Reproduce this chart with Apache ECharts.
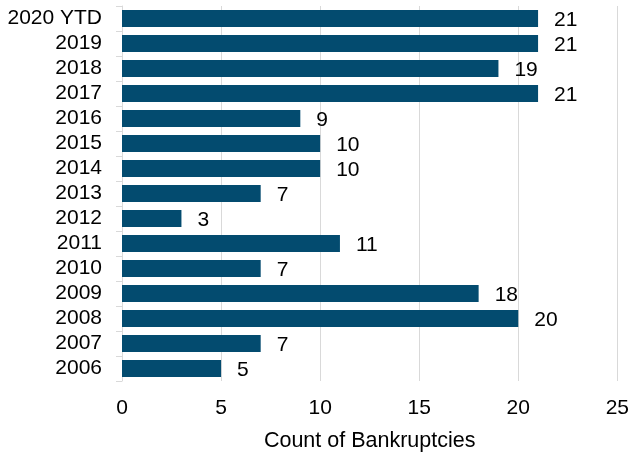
<!DOCTYPE html>
<html><head><meta charset="utf-8">
<script src="https://cdn.jsdelivr.net/npm/echarts@6/dist/echarts.min.js"></script>
<style>html,body{margin:0;padding:0;background:#fff}#c{width:632px;height:457px}</style>
</head><body><div id="c"></div>
<script>
const categories = ['2020 YTD','2019','2018','2017','2016','2015','2014','2013','2012','2011','2010','2009','2008','2007','2006'];
const counts = [21,21,19,21,9,10,10,7,3,11,7,18,20,7,5];
const xTicks = [0,5,10,15,20,25];
const chart = echarts.init(document.getElementById('c'), null, {renderer:'canvas'});
const font = 'Liberation Sans, Arial, sans-serif';
chart.setOption({
  animation:false,
  grid:{left:122,right:12.5,top:6,bottom:70,containLabel:false},
  xAxis:{type:'value',min:xTicks[0],max:xTicks[xTicks.length-1],interval:5,
    axisLine:{show:false},axisTick:{show:false},
    splitLine:{show:true,lineStyle:{color:'#d9d9d9',width:1}},
    axisLabel:{color:'#000',fontSize:21,fontFamily:font,margin:17},
    name:'Count of Bankruptcies',nameLocation:'middle',nameGap:49,
    nameTextStyle:{color:'#000',fontSize:21.5,fontFamily:font}},
  yAxis:{type:'category',data:categories,inverse:true,
    axisLine:{show:true,lineStyle:{color:'#d9d9d9',width:1}},
    axisTick:{show:true,length:6,lineStyle:{color:'#d9d9d9'}},
    axisLabel:{color:'#000',fontSize:21,fontFamily:font,margin:20,interval:0}},
  series:[{type:'bar',data:counts,barWidth:17,
    itemStyle:{color:'#034b6f'},
    label:{show:true,position:'right',distance:16,color:'#000',fontSize:21,fontFamily:font,offset:[0,2]}}]
});
</script></body></html>
